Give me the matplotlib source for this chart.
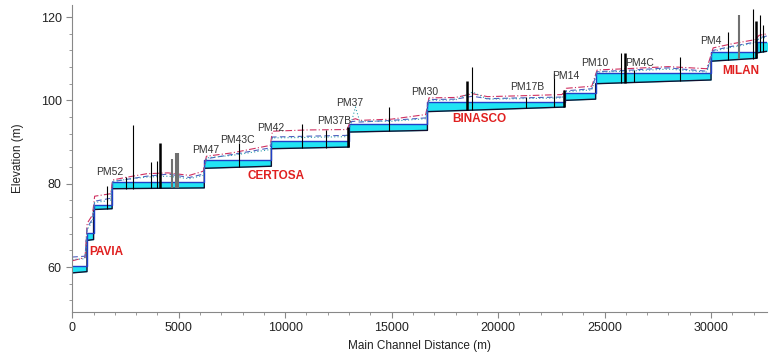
import numpy as np
import matplotlib.pyplot as plt
from matplotlib.ticker import MultipleLocator

plt.rcParams['font.family'] = ['Liberation Sans', 'DejaVu Sans']

# channel reaches between drops: start distance, bed at start/end, water surface
seg_start = [0, 690, 1000, 1870, 6200, 9350, 13000, 16680, 23130, 24580, 30000, 32150]
seg_end = [690, 1000, 1870, 6200, 9350, 13000, 16680, 23130, 24580, 30000, 32150, 32650]
bed_a = [58.6, 66.4, 73.8, 78.8, 83.7, 88.4, 92.4, 97.3, 100.0, 104.0, 109.4, 111.4]
bed_b = [58.9, 66.6, 74.0, 79.0, 84.2, 88.8, 92.8, 98.4, 100.3, 104.9, 110.1, 111.8]
ws = [60.2, 68.2, 75.0, 80.3, 85.8, 90.3, 94.4, 99.6, 101.8, 106.6, 111.6, 114.0]

# bank / ground lines
bank_x = [0, 600, 700, 950, 1050, 1800, 1900, 2500, 3500, 4500, 5500, 6150, 6300,
          7500, 9300, 9400, 11000, 12900, 13100, 13300, 13500, 15000, 16600, 16750,
          18000, 18800, 19500, 21000, 23000, 23200, 24400, 24650, 26000, 28000,
          29800, 30100, 31000, 32100, 32250, 32650]
left_bank = [61.5, 62.3, 70.5, 72.5, 77.0, 77.6, 80.9, 81.5, 82.4, 82.6, 82.0, 83.0,
             86.6, 87.4, 89.2, 92.6, 92.9, 93.0, 95.3, 95.6, 95.2, 95.5, 96.6, 100.6,
             100.7, 101.6, 100.9, 101.1, 101.4, 102.9, 103.4, 107.3, 107.6, 108.1,
             107.6, 112.6, 113.6, 114.6, 115.6, 116.0]
right_bank = [62.4, 62.6, 69.5, 71.5, 75.8, 76.5, 80.5, 81.0, 81.8, 82.3, 81.5, 82.3,
              86.0, 87.0, 88.6, 91.2, 91.4, 91.6, 94.9, 95.0, 94.8, 95.2, 95.8, 100.2,
              100.3, 101.0, 100.4, 100.6, 100.8, 102.3, 102.8, 106.9, 107.2, 107.8,
              107.0, 112.0, 113.0, 114.0, 115.0, 115.5]
mid_bank = [61.8, 62.0, 69.0, 71.0, 75.5, 76.0, 80.6, 81.0, 81.6, 81.8, 81.2, 82.0,
            86.2, 86.8, 88.2, 91.0, 91.1, 91.3, 94.6, 98.4, 95.0, 95.0, 95.6, 100.0,
            100.1, 102.0, 100.3, 100.4, 100.6, 102.1, 102.5, 106.8, 107.0, 107.5,
            106.8, 111.8, 112.8, 113.8, 114.8, 115.2]

# bridges / structures (distance, top elevation)
struct_x = [1630, 2510, 2840, 3680, 4000, 7850, 10780, 11920, 14860, 18790, 21300,
            22620, 25750, 26360, 28550, 30790, 31960, 32300, 32450]
struct_top = [79.5, 81.5, 94.0, 85.2, 85.4, 89.7, 94.4, 92.9, 98.4, 108.0, 100.8,
              106.5, 111.3, 107.2, 110.3, 116.3, 121.9, 120.5, 118.0]
pier_x = [4110, 12950, 18550, 23100, 25940, 32100]
pier_top = [89.7, 93.6, 104.6, 102.5, 111.3, 119.0]
gray_x = [4700, 4850, 4950, 31300]
gray_top = [86.0, 87.3, 87.3, 120.4]

labels = ['PM52', 'PM47', 'PM43C', 'PM42', 'PM37B', 'PM37', 'PM30', 'PM17B',
          'PM14', 'PM10', 'PM4C', 'PM4']
label_x = [1780, 6260, 7760, 9300, 12290, 13040, 16540, 21360, 23180, 24530, 26640, 30000]
label_y = [82.8, 88.0, 90.4, 93.3, 95.0, 99.3, 102.0, 103.2, 105.8, 108.9, 108.9, 114.2]
towns = ['PAVIA', 'CERTOSA', 'BINASCO', 'MILAN']
town_x = [1590, 9580, 19110, 31400]
town_y = [63.6, 81.8, 95.5, 107.0]


def bed_at(x):
    # bed elevation inside the reach that contains x
    for s, e, a, b in zip(seg_start, seg_end, bed_a, bed_b):
        if s <= x < e:
            return a + (b - a) * (x - s) / (e - s)
    return bed_b[-1]


fig = plt.figure(figsize=(7.69, 3.55), dpi=100)
ax = fig.add_axes([0.094, 0.121, 0.904, 0.865])

# water between bed and surface, one reach at a time
for s, e, a, b, w in zip(seg_start, seg_end, bed_a, bed_b, ws):
    ax.fill_between([s, e], [a, b], [w, w], color='#20e4f4', lw=0)

# stepped bed and water surface
bx, by, wx, wy = [0], [55.0], [], []
for s, e, a, b, w in zip(seg_start, seg_end, bed_a, bed_b, ws):
    bx += [s, e]
    by += [a, b]
    wx += [s, e]
    wy += [w, w]
ax.plot(bx, by, color='#101030', lw=1.0)
ax.plot(wx, wy, color='#2040c8', lw=1.0)

ax.plot(bank_x, left_bank, color='#d03060', lw=0.8, ls=(0, (6, 2, 1, 2)))
ax.plot(bank_x, right_bank, color='#5060c0', lw=0.8, ls=(0, (5, 3)))
ax.plot(bank_x, mid_bank, color='#30a0b0', lw=0.8, ls=(0, (1, 2)))

ax.vlines(struct_x, [bed_at(x) for x in struct_x], struct_top, color='black', lw=0.8)
ax.vlines(pier_x, [bed_at(x) for x in pier_x], pier_top, color='black', lw=1.8)
ax.vlines(gray_x, [bed_at(x) for x in gray_x], gray_top, color='#707070', lw=1.5)

for t, x, y in zip(labels, label_x, label_y):
    ax.text(x, y, t, fontsize=7.5, color='#333333', ha='center', va='center')
for t, x, y in zip(towns, town_x, town_y):
    ax.text(x, y, t, fontsize=8.5, color='#e02020', fontweight='bold',
            ha='center', va='center')

ax.set_xlim(0, 32650)
ax.set_ylim(49.2, 122.9)
ax.xaxis.set_major_locator(MultipleLocator(5000))
ax.xaxis.set_minor_locator(MultipleLocator(1000))
ax.yaxis.set_major_locator(MultipleLocator(20))
ax.yaxis.set_minor_locator(MultipleLocator(4))
for sp in ['top', 'right']:
    ax.spines[sp].set_visible(False)
for sp in ['left', 'bottom']:
    ax.spines[sp].set_color('#888888')
ax.tick_params(which='both', colors='#888888', labelcolor='#222222', labelsize=9)
ax.tick_params(which='major', length=4)
ax.tick_params(which='minor', length=2.5)
ax.set_xlabel('Main Channel Distance (m)', fontsize=8.5, color='#222222')
ax.set_ylabel('Elevation (m)', fontsize=8.5, color='#222222', labelpad=12)

fig.savefig('out.png', dpi=100)
